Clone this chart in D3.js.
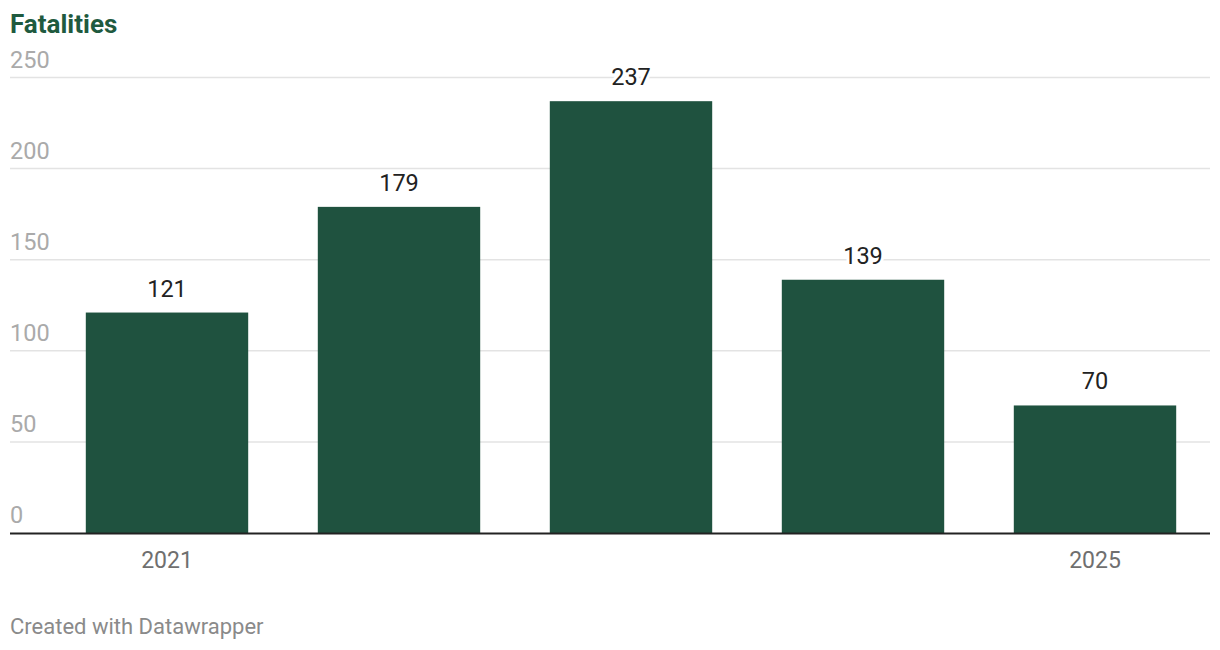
<!DOCTYPE html>
<html><head><meta charset="utf-8">
<script src="https://cdn.jsdelivr.net/npm/d3@7"></script>
<style>body{margin:0;background:#fff;font-family:Roboto,sans-serif}</style>
</head><body>
<svg id="c" width="1220" height="650"></svg>
<script>
const years = ["2021","2022","2023","2024","2025"];
const fatalities = [121,179,237,139,70];
const yTicks = [0,50,100,150,200,250];
const xTickLabels = ["2021","2025"];

const svg = d3.select("#c");
const x = d3.scaleBand().domain(years).range([51,1211]).paddingInner(0.3).paddingOuter(0.15);
const y = d3.scaleLinear().domain([0,250]).range([533,77.5]);

svg.append("text").attr("x",10).attr("y",33).text("Fatalities")
  .attr("font-size",26).attr("font-weight",700).attr("fill","#1f5a3f");

const g = svg.append("g");
yTicks.forEach(t=>{
  if(t>0) g.append("line").attr("x1",10).attr("x2",1210).attr("y1",y(t)).attr("y2",y(t))
    .attr("stroke","#e3e3e3").attr("stroke-width",1.5);
  g.append("text").attr("x",10).attr("y",y(t)-10).text(t)
    .attr("font-size",23.5).attr("fill","#aaaaaa");
});

svg.selectAll("rect.bar").data(years).enter().append("rect").attr("class","bar")
  .attr("x",d=>x(d)).attr("width",x.bandwidth())
  .attr("y",(d,i)=>y(fatalities[i])).attr("height",(d,i)=>y(0)-y(fatalities[i]))
  .attr("fill","#1f523f");

svg.selectAll("text.val").data(years).enter().append("text").attr("class","val")
  .attr("x",d=>x(d)+x.bandwidth()/2).attr("y",(d,i)=>y(fatalities[i])-16)
  .attr("text-anchor","middle").attr("font-size",23.5).attr("fill","#222")
  .attr("stroke","#fff").attr("stroke-width",6).attr("paint-order","stroke").attr("stroke-linejoin","round")
  .text((d,i)=>fatalities[i]);

svg.append("line").attr("x1",10).attr("x2",1210).attr("y1",y(0)+0.5).attr("y2",y(0)+0.5)
  .attr("stroke","#222").attr("stroke-width",2);

xTickLabels.forEach(l=>{
  svg.append("text").attr("x",x(l)+x.bandwidth()/2).attr("y",568).attr("text-anchor","middle")
    .attr("font-size",23).attr("fill","#6f6f6f").text(l);
});

svg.append("text").attr("x",10).attr("y",634).attr("font-size",22).attr("fill","#8a8a8a")
  .text("Created with Datawrapper");
</script>
</body></html>
